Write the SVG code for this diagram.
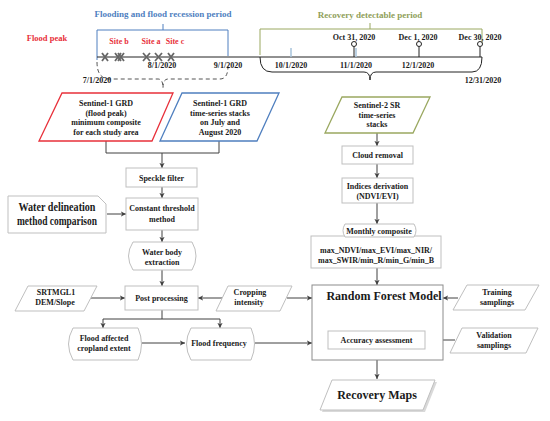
<svg xmlns="http://www.w3.org/2000/svg" width="550" height="421" viewBox="0 0 550 421">
<style>
text{font-family:"Liberation Serif","Times New Roman",serif;font-weight:bold;font-size:8px;text-anchor:middle;fill:#1a1a1a}
.big{font-size:12px}
.box{fill:#fff;stroke:#bfbfbf;stroke-width:1}
.con{fill:none;stroke:#404040;stroke-width:1}
.red{fill:#fff;stroke:#e8303a;stroke-width:1.3}
.blue{fill:#fff;stroke:#4f7fbf;stroke-width:1.3}
.grn{fill:#fff;stroke:#9aa860;stroke-width:1.3}
.x{stroke:#666;stroke-width:1.8;fill:none}
</style>
<defs>
<marker id="ah" viewBox="0 0 8 8" refX="7" refY="4" markerWidth="6" markerHeight="6" orient="auto" markerUnits="userSpaceOnUse">
<path d="M0,0.5 L7,4 L0,7.5 L2,4 Z" fill="#404040"/>
</marker>
</defs>

<g id="timeline">
<text x="163" y="17" style="font-size:9px;fill:#4f7fbf">Flooding and flood recession period</text>
<text x="370" y="18" style="font-size:9px;fill:#8fa05a">Recovery detectable period</text>
<text x="47" y="41" style="font-size:8.5px;fill:#e8303a">Flood peak</text>
<path d="M97,60 V30 H228 V56 M163,24 V30" fill="none" stroke="#4f7fbf" stroke-width="1"/>
<path d="M260,55 V29 H482 V44 M370,23 V29" fill="none" stroke="#9aa860" stroke-width="1"/>
<text x="119" y="44" style="fill:#e8303a">Site b</text>
<text x="151" y="44" style="fill:#e8303a">Site a</text>
<text x="175" y="44" style="fill:#e8303a">Site c</text>
<line x1="97" y1="57" x2="482" y2="57" stroke="#222" stroke-width="1"/>
<g class="x">
<path d="M102,53 L108,61 M108,53 L102,61"/>
<path d="M115,53 L121,61 M121,53 L115,61"/>
<path d="M118,53 L124,61 M124,53 L118,61"/>
<path d="M143,53 L150,61 M150,53 L143,61"/>
<path d="M155,53 L162,61 M162,53 L155,61"/>
<path d="M168,53 L174,61 M174,53 L168,61"/>
</g>
<path d="M97,62 Q97,79 110,79 L158,79 Q163,79 163,88 Q163,79 168,79 L220,79 Q228,79 228,66" fill="none" stroke="#555" stroke-width="1" stroke-dasharray="4,3"/>
<path d="M260,57 Q260,72 272,72 L364,72 Q370,72 370,80 Q370,72 376,72 L472,72 Q482,72 482,57" fill="none" stroke="#222" stroke-width="1"/>
<path d="M291,48 V57 M356,48 V57" stroke="#a8c4dc" stroke-width="1.5"/>
<g stroke="#222" stroke-width="1" fill="#fff">
<line x1="354" y1="46.5" x2="354" y2="57"/><circle cx="354" cy="44" r="2.5"/>
<line x1="419" y1="46.5" x2="419" y2="57"/><circle cx="419" cy="44" r="2.5"/>
<line x1="480" y1="46.5" x2="480" y2="57"/><circle cx="480" cy="44" r="2.5"/>
</g>
<text x="354" y="40">Oct 31, 2020</text>
<text x="418" y="40">Dec 1, 2020</text>
<text x="480" y="40">Dec 30, 2020</text>
<text x="162" y="68">8/1/2020</text>
<text x="228" y="68">9/1/2020</text>
<text x="97" y="83">7/1/2020</text>
<text x="291" y="68">10/1/2020</text>
<text x="356" y="68">11/1/2020</text>
<text x="418" y="68">12/1/2020</text>
<text x="483" y="83">12/31/2020</text>
</g>

<g id="connectors">
<path class="con" d="M106,141 V153 H219 V141"/>
<path class="con" d="M162,153 V168" marker-end="url(#ah)"/>
<path class="con" d="M162,187 V198" marker-end="url(#ah)"/>
<path class="con" d="M162,230 V242" marker-end="url(#ah)"/>
<path class="con" d="M162,270 V286" marker-end="url(#ah)"/>
<path class="con" d="M107,214 H126" marker-end="url(#ah)"/>
<path class="con" d="M91,298 H125" marker-end="url(#ah)"/>
<path class="con" d="M222,298 H198" marker-end="url(#ah)"/>
<path class="con" d="M287,298 H312" marker-end="url(#ah)"/>
<path class="con" d="M162,310 V319 M103,319 H220"/>
<path class="con" d="M103,319 V328" marker-end="url(#ah)"/>
<path class="con" d="M220,319 V328" marker-end="url(#ah)"/>
<path class="con" d="M142,343 H185" marker-end="url(#ah)"/>
<path class="con" d="M255,343 H312" marker-end="url(#ah)"/>
<path class="con" d="M377,133 V146" marker-end="url(#ah)"/>
<path class="con" d="M377,164 V178" marker-end="url(#ah)"/>
<path class="con" d="M377,203 V224" marker-end="url(#ah)"/>
<path class="con" d="M377,268 V285" marker-end="url(#ah)"/>
<path class="con" d="M458,298 H443" marker-end="url(#ah)"/>
<path class="con" d="M455,340 H425" marker-end="url(#ah)"/>
<path class="con" d="M377,360 V379" marker-end="url(#ah)"/>
</g>

<g id="s1-peak">
<polygon class="red" points="62,93 173,93 152,141 39,141"/>
<text x="106" y="106">Sentinel-1 GRD</text>
<text x="106" y="116">(flood peak)</text>
<text x="106" y="125">minimum composite</text>
<text x="106" y="135">for each study area</text>
</g>
<g id="s1-stacks">
<polygon class="blue" points="182,93 279,93 257,141 160,141"/>
<text x="220" y="106">Sentinel-1 GRD</text>
<text x="220" y="116">time-series stacks</text>
<text x="220" y="125">on July and</text>
<text x="220" y="135">August 2020</text>
</g>
<g id="speckle">
<rect class="box" x="126" y="168" width="71" height="19"/>
<text x="161.5" y="180.5">Speckle filter</text>
</g>
<g id="water-delineation">
<path class="box" d="M8,196 H98 L106,204 V233 H8 Z"/>
<text class="big" x="57" y="211" textLength="77" lengthAdjust="spacingAndGlyphs">Water delineation</text>
<text class="big" x="57" y="225" textLength="80" lengthAdjust="spacingAndGlyphs">method comparison</text>
</g>
<g id="threshold">
<rect class="box" x="126" y="198" width="72" height="32"/>
<text x="162" y="211">Constant threshold</text>
<text x="162" y="222">method</text>
</g>
<g id="water-body">
<path class="box" d="M133,242 H192 Q200,256 192,270 H133 Q124,256 133,242 Z"/>
<text x="162" y="255">Water body</text>
<text x="162" y="265">extraction</text>
</g>
<g id="srtm">
<polygon class="box" points="28,286 97,286 84,311 15,311"/>
<text x="56" y="295">SRTMGL1</text>
<text x="55" y="305">DEM/Slope</text>
</g>
<g id="post">
<rect class="box" x="125" y="286" width="73" height="24"/>
<text x="161.5" y="301">Post processing</text>
</g>
<g id="cropping">
<polygon class="box" points="228,286 292,286 280,311 216,311"/>
<text x="250" y="295">Cropping</text>
<text x="249" y="305">intensity</text>
</g>
<g id="flood-extent">
<path class="box" d="M73,328 H138 Q145,344 138,360 H73 Q64,344 73,328 Z"/>
<text x="104" y="341">Flood affected</text>
<text x="104" y="351">cropland extent</text>
</g>
<g id="flood-frequency">
<path class="box" d="M191,328 H251 Q258,344 251,360 H191 Q182,344 191,328 Z"/>
<text x="219" y="346">Flood frequency</text>
</g>
<g id="s2">
<polygon class="grn" points="342,97 430,97 413,133 325,133"/>
<text x="377" y="108">Sentinel-2 SR</text>
<text x="377" y="118">time-series</text>
<text x="377" y="127">stacks</text>
</g>
<g id="cloud">
<rect class="box" x="342" y="146" width="71" height="18"/>
<text x="377.5" y="157.5">Cloud removal</text>
</g>
<g id="indices">
<rect class="box" x="342" y="178" width="71" height="25"/>
<text x="377.5" y="189">Indices derivation</text>
<text x="377.5" y="199">(NDVI/EVI)</text>
</g>
<g id="monthly">
<rect class="box" x="311" y="236" width="130" height="32"/>
<path class="box" d="M345,224 H414 Q418,230.5 414,237 H345 Q341,230.5 345,224 Z"/>
<text x="379" y="233.5">Monthly composite</text>
<text x="376" y="253">max_NDVI/max_EVI/max_NIR/</text>
<text x="376" y="263">max_SWIR/min_R/min_G/min_B</text>
</g>
<g id="rf">
<rect x="312" y="285" width="131" height="75" fill="#fff" stroke="#8c8c8c" stroke-width="1"/>
<text class="big" x="384" y="300">Random Forest Model</text>
</g>
<g id="accuracy">
<rect class="box" x="328" y="331" width="97" height="18"/>
<text x="376.5" y="343">Accuracy assessment</text>
</g>
<g id="training">
<polygon class="box" points="467,285 539,285 525,310 453,310"/>
<text x="497" y="295">Training</text>
<text x="497" y="305">samplings</text>
</g>
<g id="validation">
<polygon class="box" points="462,328 538,328 526,353 450,353"/>
<text x="494" y="338">Validation</text>
<text x="494" y="348">samplings</text>
</g>
<g id="recovery-maps">
<polygon points="334,382 437,382 425,412 322,412" fill="#d9d9d9"/>
<polygon class="box" points="332,380 435,380 423,410 320,410"/>
<text class="big" x="377" y="399">Recovery Maps</text>
</g>
</svg>
